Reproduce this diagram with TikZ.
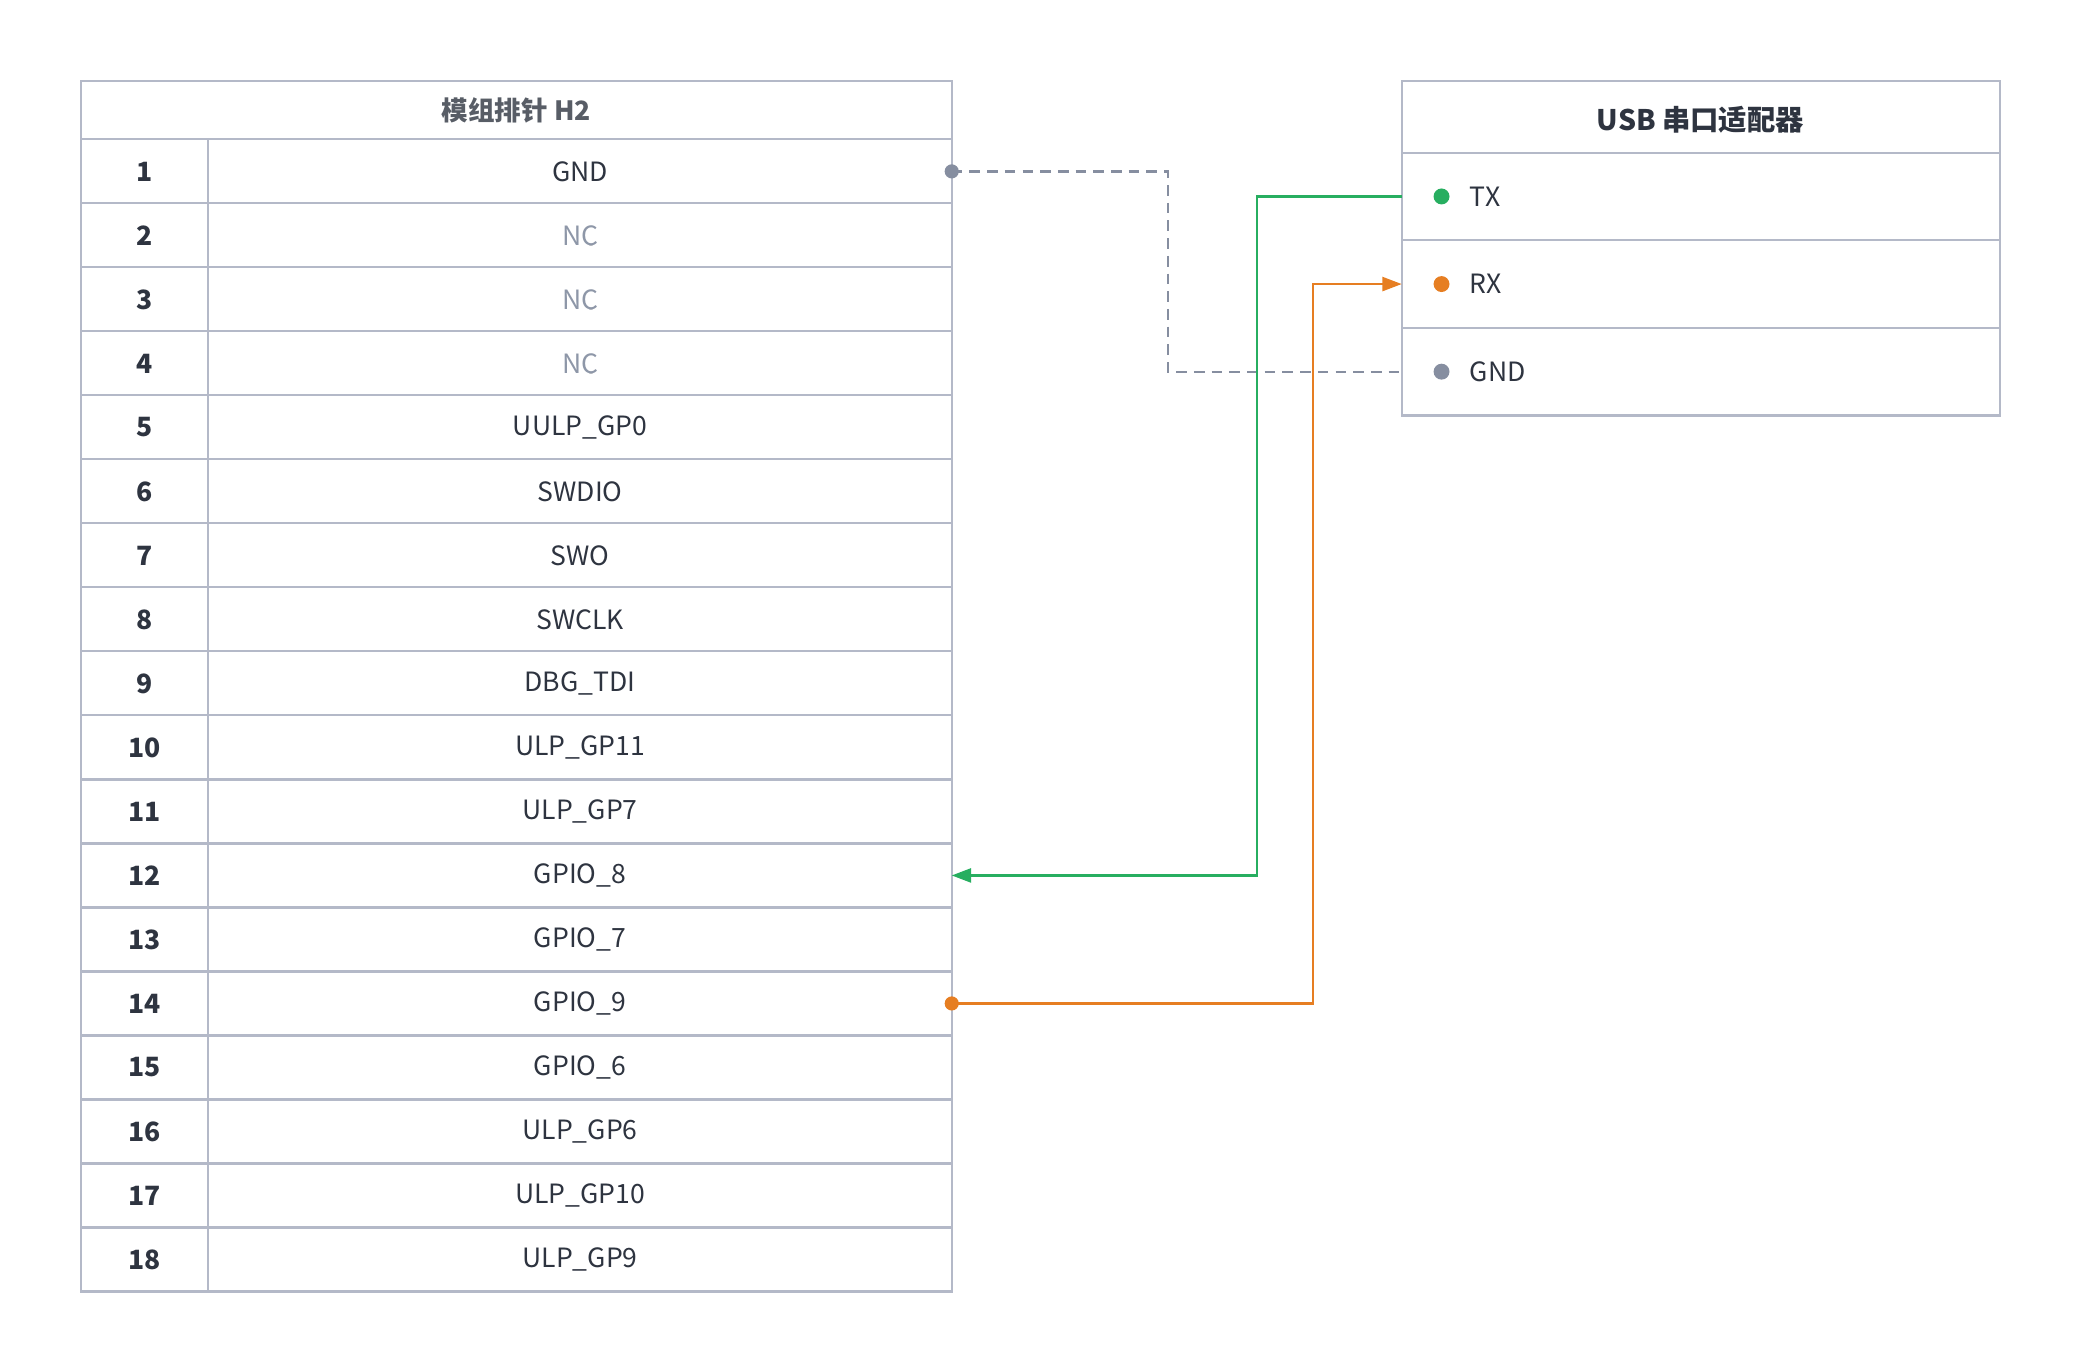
\documentclass[tikz,border=0pt]{standalone}
\usepackage{fontspec}
\setmainfont{Noto Sans CJK SC}
\usetikzlibrary{arrows.meta}
\definecolor{bd}{HTML}{B4B9C8}
\definecolor{tx}{HTML}{2E3440}
\definecolor{nc}{HTML}{8E97A8}
\definecolor{gn}{HTML}{27AE60}
\definecolor{og}{HTML}{E67E22}
\definecolor{gy}{HTML}{868EA0}
\begin{document}
\begin{tikzpicture}[x=0.75pt,y=-0.75pt,
  cell/.style={draw=bd,line width=1.2pt},
  lbl/.style={font=\fontsize{15}{18}\selectfont,text=tx,inner sep=0},
  num/.style={lbl,font=\fontsize{15}{18}\selectfont\bfseries},
  dot/.style={circle,fill=#1,inner sep=0,minimum size=9pt},
  wire/.style={line width=1.3pt}]
\useasboundingbox (0,0) rectangle (1567,1012.6);
% left table
\draw[cell] (61,61) rectangle (717,105);
\node[num,text=tx!80] (lh) at (389,83) {模组排针 H2};
\foreach \i/\n in {1/GND,2/NC,3/NC,4/NC,5/UULP\_GP0,6/SWDIO,7/SWO,8/SWCLK,9/DBG\_TDI,10/ULP\_GP11,11/ULP\_GP7,12/GPIO\_8,13/GPIO\_7,14/GPIO\_9,15/GPIO\_6,16/ULP\_GP6,17/ULP\_GP10,18/ULP\_GP9}{
  \pgfmathsetmacro\ya{105+(\i-1)*48.22}
  \pgfmathsetmacro\yb{\ya+48.22}
  \pgfmathsetmacro\ym{\ya+24.11}
  \draw[cell] (61,\ya) rectangle (157,\yb);
  \draw[cell] (157,\ya) rectangle (717,\yb);
  \node[num] (n\i) at (109,\ym) {\i};
  \node[lbl] (p\i) at (437,\ym) {\n};
  \coordinate (e\i) at (717,\ym);
}
\foreach \i in {2,3,4}{\node[lbl,text=nc,fill=white] at (p\i) {NC};}
% right table
\draw[cell] (1056,61) rectangle (1507,115);
\node[num,font=\fontsize{16}{19}\selectfont\bfseries] (rh) at (1281,90) {USB 串口适配器};
\draw[cell] (1056,115) rectangle (1507,181);
\draw[cell] (1056,181) rectangle (1507,247);
\draw[cell] (1056,247) rectangle (1507,313);
\node[dot=gn] (dtx) at (1086,148) {};
\node[dot=og] (drx) at (1086,214) {};
\node[dot=gy] (dgnd) at (1086,280) {};
\node[lbl,anchor=west] (ttx) at (1107,148) {TX};
\node[lbl,anchor=west] (trx) at (1107,214) {RX};
\node[lbl,anchor=west] (tgnd) at (1107,280) {GND};
\coordinate (rtx) at (1056,148);
\coordinate (rrx) at (1056,214);
\coordinate (rgnd) at (1056,280);
% wires
\draw[wire,gy,dashed,dash pattern=on 6pt off 4pt] (e1) -- (e1-|880,0) |- (rgnd);
\node[dot=gy,minimum size=8pt] at (e1) {};
\draw[wire,gn,-{Triangle[length=11pt,width=8pt]}] (rtx) -| (e12-|947,0) -- (e12);
\draw[wire,og,-{Triangle[length=11pt,width=8pt]}] (e14) -- (e14-|989,0) |- (rrx);
\node[dot=og,minimum size=8pt] at (e14) {};
\end{tikzpicture}
\end{document}
